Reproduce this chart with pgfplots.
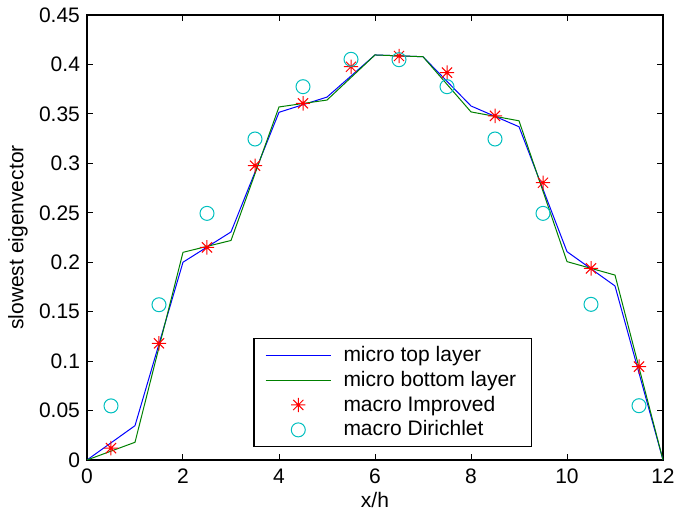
\documentclass[border=0pt]{standalone}
\usepackage{fontspec}
\setmainfont{Liberation Sans}
\usepackage{pgfplots}
\pgfplotsset{compat=1.18}
\definecolor{mblue}{RGB}{0,0,255}
\definecolor{mgreen}{RGB}{0,128,0}
\definecolor{mred}{RGB}{255,0,0}
\definecolor{mcyan}{RGB}{0,191,191}
% MATLAB-like '*' marker: plus and cross together
\pgfdeclareplotmark{mstar}{%
  \pgfpathmoveto{\pgfqpoint{-\pgfplotmarksize}{0pt}}\pgfpathlineto{\pgfqpoint{\pgfplotmarksize}{0pt}}%
  \pgfpathmoveto{\pgfqpoint{0pt}{-\pgfplotmarksize}}\pgfpathlineto{\pgfqpoint{0pt}{\pgfplotmarksize}}%
  \pgfpathmoveto{\pgfqpoint{-.707\pgfplotmarksize}{-.707\pgfplotmarksize}}\pgfpathlineto{\pgfqpoint{.707\pgfplotmarksize}{.707\pgfplotmarksize}}%
  \pgfpathmoveto{\pgfqpoint{-.707\pgfplotmarksize}{.707\pgfplotmarksize}}\pgfpathlineto{\pgfqpoint{.707\pgfplotmarksize}{-.707\pgfplotmarksize}}%
  \pgfusepathqstroke}

\begin{document}
\begin{tikzpicture}
% fixed page: axis box is 288pt x 222.5pt at the origin
\useasboundingbox (-43.5pt,-26pt) rectangle (294pt,230pt);
\begin{axis}[
  scale only axis, width=288pt, height=222.5pt,
  xmin=0, xmax=12, ymin=0, ymax=0.45,
  xtick={0,2,...,12},
  ytick={0,0.05,...,0.45},
  yticklabels={0,0.05,0.1,0.15,0.2,0.25,0.3,0.35,0.4,0.45},
  tick align=inside, major tick length=3pt,
  tick style={black, line width=0.5pt},
  axis line style={black, line width=0.6pt},
  font=\fontsize{10.5}{12.5}\selectfont,
  /pgf/number format/assume math mode=true,
  xticklabel style={yshift=-1pt},
  xlabel={x/h}, ylabel={slowest eigenvector},
  every axis x label/.style={at={(axis description cs:0.5,-0.09)}, anchor=center},
  every axis y label/.style={at={(axis description cs:-0.12,0.5)}, rotate=90, anchor=center},
  legend style={at={(0.289,0.029)}, anchor=south west, draw=black, line width=0.6pt,
    font=\fontsize{10.5}{12.5}\selectfont, row sep=-0.65pt, inner xsep=5.5pt, inner ysep=1.75pt,
    /tikz/every odd column/.append style={column sep=4pt}},
  legend cell align=left,
  legend image code/.code={\draw[mark repeat=2,mark phase=2,#1]
    plot coordinates {(0cm,0cm)(0.575cm,0cm)(1.15cm,0cm)};},
]
\addplot[mblue, line width=0.5pt, mark=none] coordinates {
  (0,0)(1,0.0347)(2,0.200)(3,0.2306)(4,0.3516)(5,0.367)(6,0.4096)
  (7,0.4078)(8,0.358)(9,0.337)(10,0.2107)(11,0.176)(12,0)
};
\addlegendentry{micro top layer}
\addplot[mgreen, line width=0.5pt, mark=none] coordinates {
  (0,0)(1,0.0179)(2,0.210)(3,0.222)(4,0.357)(5,0.364)(6,0.4096)
  (7,0.4078)(8,0.352)(9,0.343)(10,0.2006)(11,0.187)(12,0)
};
\addlegendentry{micro bottom layer}
\addplot[mred, only marks, mark=mstar, mark size=3.6pt, line width=0.5pt] coordinates {
  (0.5,0.012)(1.5,0.118)(2.5,0.215)(3.5,0.2976)(4.5,0.3607)(5.5,0.3977)
  (6.5,0.4085)(7.5,0.3917)(8.5,0.348)(9.5,0.2804)(10.5,0.1938)(11.5,0.0944)
};
\addlegendentry{macro Improved}
\addplot[mcyan, only marks, mark=o, mark size=3.5pt, line width=0.5pt] coordinates {
  (0.5,0.0547)(1.5,0.157)(2.5,0.2494)(3.5,0.3246)(4.5,0.3775)(5.5,0.4052)
  (6.5,0.4048)(7.5,0.3775)(8.5,0.3246)(9.5,0.2494)(10.5,0.1574)(11.5,0.0549)
};
\addlegendentry{macro Dirichlet}
\end{axis}
\end{tikzpicture}
\end{document}
